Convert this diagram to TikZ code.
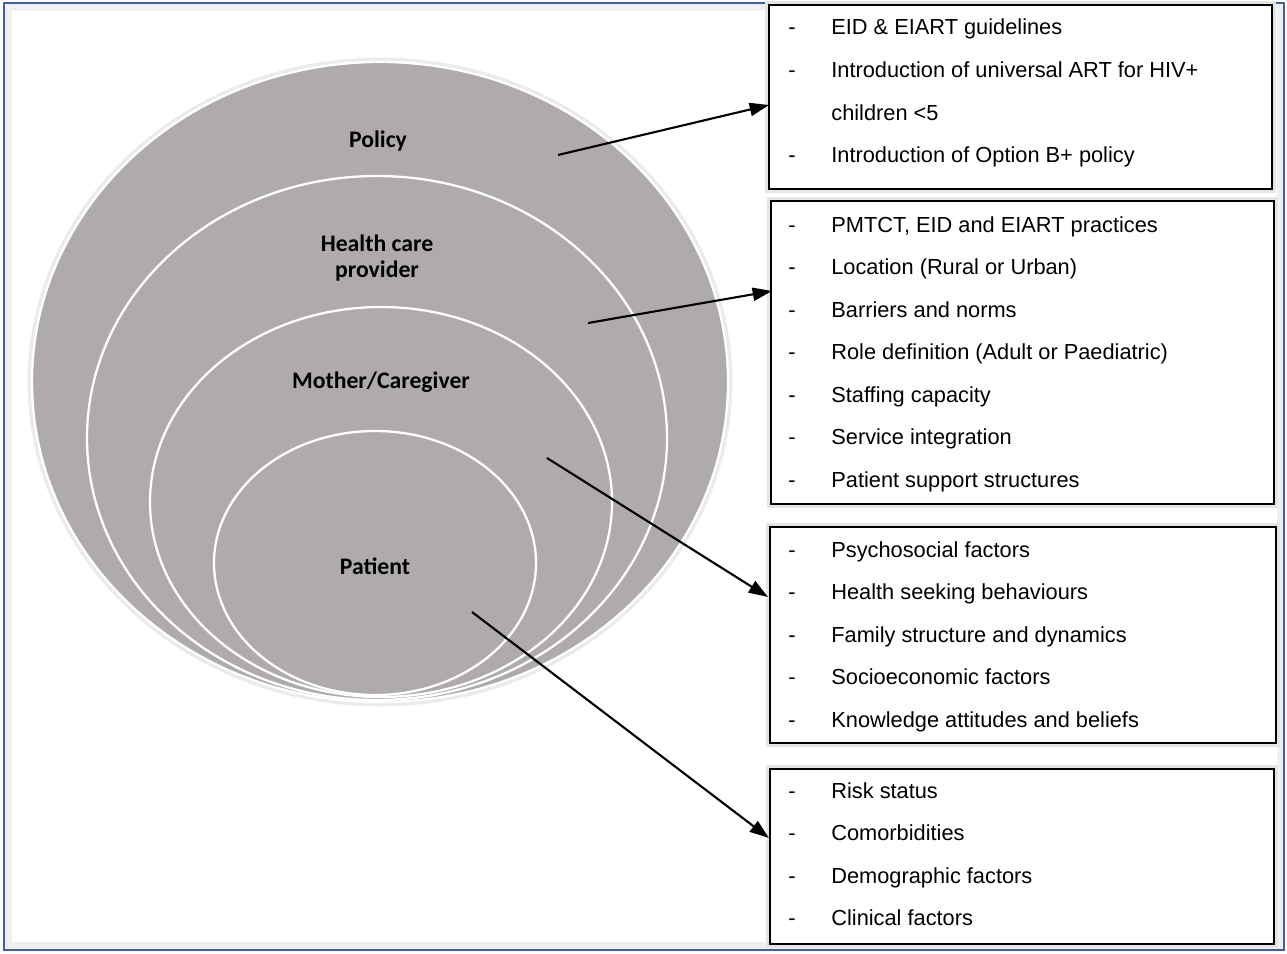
\documentclass[tikz,border=0pt]{standalone}
\usepackage{fontspec}
\setmainfont{Liberation Sans}
\newfontfamily\labelfont{Carlito}
\usepackage{tikz}
\usetikzlibrary{arrows.meta}
\definecolor{layergray}{RGB}{174,171,170}
\definecolor{frameblue}{RGB}{62,96,164}
\tikzstyle{arrow} = [-{Triangle[length=11pt,width=7.5pt]}, line width=1.2pt]
\tikzstyle{layer} = [fill=layergray, draw=white, line width=1.3pt]
\tikzstyle{layerlabel} = [font=\labelfont\bfseries\fontsize{13.5}{15.3}\selectfont, align=center, inner sep=0pt]
\tikzstyle{listbox} = [draw=black, line width=1.2pt, fill=white, inner sep=0pt, anchor=north west, preaction={draw=black!10, line width=4.5pt}]
\tikzstyle{listitem} = [anchor=base west, inner sep=0pt, font=\fontsize{12.4}{14}\selectfont]

\begin{document}
\begin{tikzpicture}[x=0.02cm, y=-0.02cm]
    \useasboundingbox (0,0) rectangle (1287,953);
    \draw[black!6, line width=4pt] (8,7) rectangle (1280,946);
    \draw[frameblue, line width=1.2pt] (4,3) rectangle (1284,950);

    \path[layer, preaction={draw=black!8, line width=5pt}] (380,382) ellipse [x radius=348, y radius=320];
    \path[layer] (377,438) ellipse [x radius=290, y radius=262];
    \path[layer] (381,502) ellipse [x radius=231, y radius=195];
    \path[layer] (375,563) ellipse [x radius=161, y radius=132];

    \node[layerlabel, anchor=base] (policy) at (378,147) {Policy};
    \node[layerlabel] (provider) at (377,258) {Health care\\provider};
    \node[layerlabel, anchor=base] (mother) at (381,388) {Mother/Caregiver};
    \node[layerlabel, anchor=base] (patient) at (375,574) {Patient};

    \node[listbox, minimum width=10.06cm, minimum height=3.68cm] (policybox) at (768,4) {};
    \node[listbox, minimum width=10.06cm, minimum height=6.06cm] (providerbox) at (770,200) {};
    \node[listbox, minimum width=10.12cm, minimum height=4.32cm] (motherbox) at (769,526) {};
    \node[listbox, minimum width=10.08cm, minimum height=3.5cm] (patientbox) at (769,768) {};

    \node[listitem] (pold0) at (788,35) {-};
    \node[listitem] (pol0) at (831,35) {EID \& EIART guidelines};
    \node[listitem] (pold1) at (788,77.5) {-};
    \node[listitem] (pol1) at (831,77.5) {Introduction of universal ART for HIV+};
    \node[listitem] (pol2) at (831,120) {children <5};
    \node[listitem] (pold3) at (788,162.5) {-};
    \node[listitem] (pol3) at (831,162.5) {Introduction of Option B+ policy};

    \foreach \t [count=\i from 0] in {{PMTCT, EID and EIART practices}, {Location (Rural or Urban)},
        Barriers and norms, {Role definition (Adult or Paediatric)}, Staffing capacity,
        Service integration, Patient support structures}{
        \node[listitem] (provd\i) at (788,232+42.5*\i) {-};
        \node[listitem] (prov\i) at (831,232+42.5*\i) {\t};
    }
    \foreach \t [count=\i from 0] in {Psychosocial factors, Health seeking behaviours,
        Family structure and dynamics, Socioeconomic factors, Knowledge attitudes and beliefs}{
        \node[listitem] (mothd\i) at (788,557+42.5*\i) {-};
        \node[listitem] (moth\i) at (831,557+42.5*\i) {\t};
    }
    \foreach \t [count=\i from 0] in {Risk status, Comorbidities, Demographic factors, Clinical factors}{
        \node[listitem] (patd\i) at (788,798+42.5*\i) {-};
        \node[listitem] (pat\i) at (831,798+42.5*\i) {\t};
    }

    \coordinate (polstart) at (558,155);
    \coordinate (polend) at (769,105);
    \coordinate (provstart) at (588,323);
    \coordinate (provend) at (772,291);
    \coordinate (mothstart) at (547,458);
    \coordinate (mothend) at (768,597);
    \coordinate (patstart) at (472,612);
    \coordinate (patend) at (769,838);
    \draw[arrow] (polstart) -- (polend);
    \draw[arrow] (provstart) -- (provend);
    \draw[arrow] (mothstart) -- (mothend);
    \draw[arrow] (patstart) -- (patend);
\end{tikzpicture}
\end{document}
